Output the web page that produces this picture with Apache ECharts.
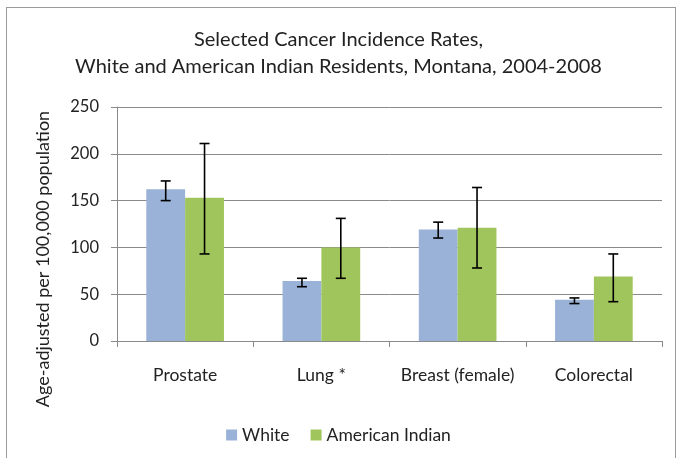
<!DOCTYPE html>
<html>
<head>
<meta charset="utf-8">
<script src="https://cdn.jsdelivr.net/npm/echarts@6/dist/echarts.min.js"></script>
<style>
    html, body { margin: 0; padding: 0; background: #ffffff; overflow: hidden; }
    #frame {
        position: absolute;
        left: 6px; top: 7px;
        width: 668px; height: 480px;
        border: 1px solid #9a9a9a;
    }
    #chart {
        position: absolute;
        left: 0; top: 0;
        width: 677px; height: 458px;
    }
</style>
</head>
<body>
<div id="frame"></div>
<div id="chart"></div>
<script>
    // values
    const categories = ['Prostate', 'Lung *', 'Breast (female)', 'Colorectal'];
    const whiteRates = [162, 64, 119, 44];
    const whiteLow = [150, 58, 110, 40];
    const whiteHigh = [171, 67, 127, 46];
    const indianRates = [153, 100, 121, 69];
    const indianLow = [93, 67, 78, 42];
    const indianHigh = [211, 131, 164, 93];
    const yTicks = [0, 50, 100, 150, 200, 250];

    const font = 'Lato, "Open Sans", sans-serif';
    const txt = '#222222';
    const blue = '#9bb2d8';
    const green = '#a0c55c';

    // error bars drawn at bar centre; bars fill 57% of the band, no gap between the two
    function errorBar(side) {
        return function (params, api) {
            const idx = api.value(0);
            const lowPt = api.coord([idx, api.value(1)]);
            const highPt = api.coord([idx, api.value(2)]);
            const band = api.size([1, 0])[0];
            const x = lowPt[0] + side * band * 0.57 / 4;
            const cap = 5;
            const st = { stroke: '#000000', lineWidth: 1.6 };
            return {
                type: 'group',
                children: [
                    { type: 'line', shape: { x1: x, y1: highPt[1], x2: x, y2: lowPt[1] }, style: st },
                    { type: 'line', shape: { x1: x - cap, y1: highPt[1], x2: x + cap, y2: highPt[1] }, style: st },
                    { type: 'line', shape: { x1: x - cap, y1: lowPt[1], x2: x + cap, y2: lowPt[1] }, style: st }
                ]
            };
        };
    }

    const whiteErr = categories.map((c, i) => [i, whiteLow[i], whiteHigh[i]]);
    const indianErr = categories.map((c, i) => [i, indianLow[i], indianHigh[i]]);

    const chart = echarts.init(document.getElementById('chart'));
    chart.setOption({
        animation: false,
        backgroundColor: 'transparent',
        title: {
            text: 'Selected Cancer Incidence Rates,\nWhite and American Indian Residents, Montana, 2004-2008',
            left: 'center',
            top: 21,
            textStyle: { fontFamily: font, fontSize: 20, fontWeight: 'normal', color: txt, lineHeight: 27 }
        },
        legend: {
            data: ['White', 'American Indian'],
            left: 'center',
            top: 421,
            icon: 'rect',
            itemWidth: 11,
            itemHeight: 11,
            itemGap: 21,
            textStyle: { fontFamily: font, fontSize: 17.5, color: txt }
        },
        grid: { left: 117, right: 15, top: 107, bottom: 117 },
        xAxis: {
            type: 'category',
            data: categories,
            axisLine: { lineStyle: { color: '#8a8a8a', width: 1 } },
            axisTick: { show: true, length: 6, lineStyle: { color: '#8a8a8a' } },
            axisLabel: { interval: 0, fontFamily: font, fontSize: 17.5, color: txt, margin: 25 }
        },
        yAxis: {
            type: 'value',
            min: yTicks[0],
            max: yTicks[yTicks.length - 1],
            interval: 50,
            axisLine: { show: true, lineStyle: { color: '#8a8a8a', width: 1 } },
            axisTick: { show: true, length: 6, lineStyle: { color: '#8a8a8a' } },
            axisLabel: { fontFamily: font, fontSize: 16.5, color: txt, margin: 18 },
            splitLine: { lineStyle: { color: '#8a8a8a', width: 1 } }
        },
        graphic: [{
            type: 'text',
            x: 43,
            y: 259,
            rotation: Math.PI / 2,
            style: {
                text: 'Age-adjusted per 100,000 population',
                fontFamily: font,
                fontSize: 18,
                fill: txt,
                textAlign: 'center',
                textVerticalAlign: 'middle'
            }
        }],
        series: [
            {
                name: 'White', type: 'bar', data: whiteRates,
                itemStyle: { color: blue }, barGap: '0%', barCategoryGap: '43%'
            },
            {
                name: 'American Indian', type: 'bar', data: indianRates,
                itemStyle: { color: green }, barGap: '0%', barCategoryGap: '43%'
            },
            { type: 'custom', renderItem: errorBar(-1), data: whiteErr, z: 10, encode: { x: 0, y: [1, 2] } },
            { type: 'custom', renderItem: errorBar(1), data: indianErr, z: 10, encode: { x: 0, y: [1, 2] } }
        ]
    });
</script>
</body>
</html>
